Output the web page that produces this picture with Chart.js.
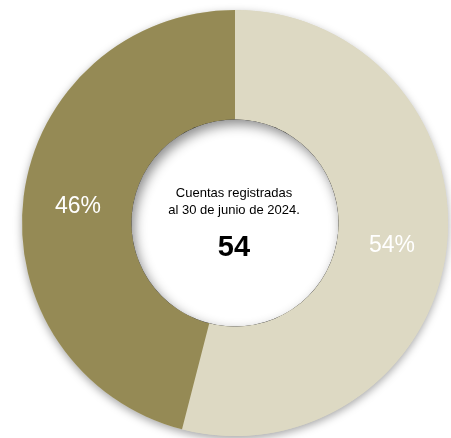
<!DOCTYPE html>
<html>
<head>
<meta charset="utf-8">
<script src="https://cdn.jsdelivr.net/npm/chart.js@4"></script>
<style>
  html, body { margin: 0; padding: 0; background: #fff; }
  #wrap { position: relative; width: 451px; height: 438px; }
</style>
</head>
<body>
<div id="wrap"><canvas id="chart-cuentas"></canvas></div>
<script>
/* Donut: cuentas registradas al 30 de junio de 2024 */

const LABELS = ["Grupo A", "Grupo B"];
const SHARES = [54, 46];
const COLORS = ["#ddd9c3", "#958a55"];
const CENTER_LINES = ["Cuentas registradas", "al 30 de junio de 2024."];
const CENTER_TOTAL = "54";

const FONT = "'Liberation Sans', Arial, sans-serif";

// soft shadows: under the ring, and inside the hole
const shadowPlugin = {
  id: "shadows",
  beforeDatasetsDraw(chart) {
    const arc = chart.getDatasetMeta(0).data[0];
    if (!arc) return;
    const { ctx } = chart;
    ctx.save();
    ctx.shadowColor = "rgba(0,0,0,0.35)";
    ctx.shadowBlur = 8;
    ctx.shadowOffsetY = 3;
    ctx.beginPath();
    ctx.arc(arc.x, arc.y, arc.outerRadius, 0, Math.PI * 2);
    ctx.arc(arc.x, arc.y, arc.innerRadius, 0, Math.PI * 2, true);
    ctx.fillStyle = "#ddd9c3";
    ctx.fill();
    ctx.restore();
  },
  afterDatasetsDraw(chart) {
    const arc = chart.getDatasetMeta(0).data[0];
    if (!arc) return;
    const { ctx } = chart;
    const r = arc.innerRadius;
    ctx.save();
    ctx.beginPath();
    ctx.arc(arc.x, arc.y, r, 0, Math.PI * 2);
    ctx.clip();
    ctx.fillStyle = "#ffffff";
    ctx.fill();
    ctx.shadowColor = "rgba(0,0,0,0.45)";
    ctx.shadowBlur = 12;
    ctx.shadowOffsetX = 3;
    ctx.shadowOffsetY = 5;
    ctx.beginPath();
    ctx.arc(arc.x, arc.y, r + 10, 0, Math.PI * 2);
    ctx.lineWidth = 20;
    ctx.strokeStyle = "#000";
    ctx.stroke();
    ctx.restore();
  },
};

const labelPlugin = {
  id: "sliceLabels",
  afterDraw(chart) {
    const { ctx } = chart;
    const meta = chart.getDatasetMeta(0);
    ctx.save();
    ctx.textAlign = "center";
    ctx.textBaseline = "middle";
    ctx.fillStyle = "#ffffff";
    ctx.font = `23px ${FONT}`;
    meta.data.forEach((arc, i) => {
      const p = arc.tooltipPosition();
      ctx.fillText(SHARES[i] + "%", p.x, p.y + 3);
    });

    const c = meta.data[0];
    ctx.fillStyle = "#000000";
    ctx.font = `13px ${FONT}`;
    ctx.fillText(CENTER_LINES[0], c.x - 1, c.y - 30);
    ctx.fillText(CENTER_LINES[1], c.x - 1, c.y - 13);
    ctx.font = `bold 29px ${FONT}`;
    ctx.fillText(CENTER_TOTAL, c.x - 1, c.y + 25);
    ctx.restore();
  },
};

new Chart(document.getElementById("chart-cuentas"), {
  type: "doughnut",
  data: {
    labels: LABELS,
    datasets: [{ data: SHARES, backgroundColor: COLORS, borderWidth: 0, hoverOffset: 0 }],
  },
  options: {
    responsive: true,
    maintainAspectRatio: false,
    animation: false,
    cutout: "48.6%",
    layout: { padding: { top: 10, bottom: 2, left: 21, right: 2 } },
    plugins: { legend: { display: false }, tooltip: { enabled: false } },
  },
  plugins: [shadowPlugin, labelPlugin],
});
</script>
</body>
</html>
